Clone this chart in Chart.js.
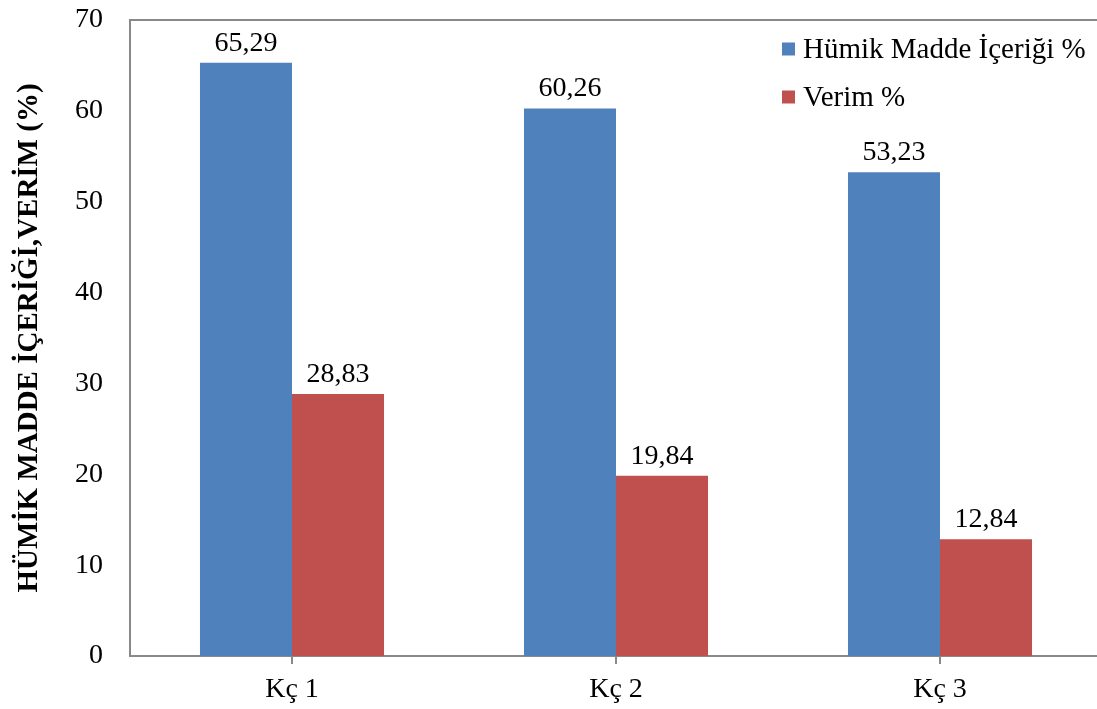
<!DOCTYPE html>
<html>
<head>
<meta charset="utf-8">
<script src="https://cdn.jsdelivr.net/npm/chart.js@4.4.1/dist/chart.umd.min.js"></script>
<style>
  html, body { margin: 0; padding: 0; background: #fff; overflow: hidden; }
  #wrap { width: 1097px; height: 709px; overflow: hidden; }
</style>
</head>
<body>
<div id="wrap"><canvas id="c" width="1102" height="709"></canvas></div>
<script>
var categories = ['Kç 1', 'Kç 2', 'Kç 3'];
var humikValues = [65.29, 60.26, 53.23];
var verimValues = [28.83, 19.84, 12.84];
var seriesNames = ['Hümik Madde İçeriği %', 'Verim %'];
var yTicks = [0, 10, 20, 30, 40, 50, 60, 70];
var yTitle = 'HÜMİK MADDE İÇERİĞİ,VERİM (%)';

var FONT = "'Liberation Serif', 'Times New Roman', serif";
var AXIS = '#898989';
var colors = ['#4F81BD', '#C0504D'];

// value labels above bars + legend + top frame line
var extras = {
    id: 'extras',
    afterDatasetsDraw: function(chart) {
        var ctx = chart.ctx;
        ctx.save();
        ctx.font = '28px ' + FONT;
        ctx.fillStyle = '#000';
        ctx.textAlign = 'center';
        ctx.textBaseline = 'alphabetic';
        chart.data.datasets.forEach(function(ds, i) {
            chart.getDatasetMeta(i).data.forEach(function(bar, j) {
                var s = ds.data[j].toFixed(2).replace('.', ',');
                ctx.fillText(s, bar.x, bar.y - 12);
            });
        });
        // top line
        var a = chart.chartArea;
        ctx.strokeStyle = AXIS;
        ctx.lineWidth = 2;
        ctx.beginPath();
        ctx.moveTo(a.left - 1, a.top);
        ctx.lineTo(chart.width, a.top);
        ctx.stroke();
        // legend
        ctx.font = '29px ' + FONT;
        ctx.textAlign = 'left';
        ctx.textBaseline = 'middle';
        var rows = [49, 97];
        seriesNames.forEach(function(n, i) {
            ctx.fillStyle = colors[i];
            ctx.fillRect(782, rows[i] - 6.5, 13, 13);
            ctx.fillStyle = '#000';
            ctx.fillText(n, 803, rows[i] + 1);
        });
        ctx.restore();
    }
};

new Chart(document.getElementById('c'), {
    type: 'bar',
    data: {
        labels: categories,
        datasets: [
            { label: seriesNames[0], data: humikValues, backgroundColor: colors[0] },
            { label: seriesNames[1], data: verimValues, backgroundColor: colors[1] }
        ]
    },
    options: {
        responsive: false,
        animation: false,
        layout: { padding: 0 },
        datasets: { bar: { barPercentage: 1, categoryPercentage: 0.568 } },
        plugins: { legend: { display: false }, tooltip: { enabled: false } },
        scales: {
            x: {
                afterFit: function(s) { s.height = 53; s.paddingLeft = 0; s.paddingRight = 0; },
                grid: { display: true, drawOnChartArea: false, offset: false, tickLength: 8, color: AXIS, lineWidth: 2 },
                border: { display: true, color: AXIS, width: 2 },
                ticks: { color: '#000', font: { family: FONT, size: 28 }, padding: 9 }
            },
            y: {
                min: 0, max: 70,
                afterFit: function(s) { s.width = 130; s.paddingTop = 20; s.paddingBottom = 0; },
                afterBuildTicks: function(s) { s.ticks = yTicks.map(function(v) { return { value: v }; }); },
                grid: { display: false, drawTicks: false },
                border: { display: true, color: AXIS, width: 2 },
                ticks: { color: '#000', font: { family: FONT, size: 28 }, padding: 27 },
                title: {
                    display: true, text: yTitle, color: '#000',
                    font: { family: FONT, size: 29, weight: 'bold' },
                    padding: { top: 12, bottom: 0 }
                }
            }
        }
    },
    plugins: [extras]
});
</script>
</body>
</html>
